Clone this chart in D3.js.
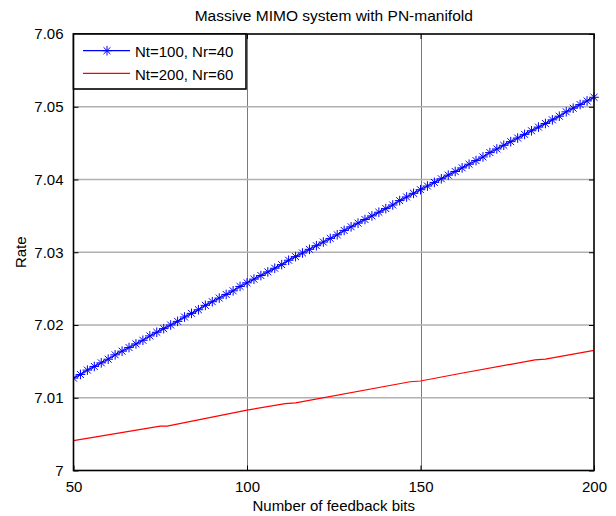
<!DOCTYPE html>
<html>
<head>
<meta charset="utf-8">
<script src="https://cdn.jsdelivr.net/npm/d3@7"></script>
<style>
  body { margin: 0; background: #fff; }
  svg text { font-family: Arial, "Liberation Sans", Helvetica, sans-serif; fill: #000; }
</style>
</head>
<body>
<div id="chart"></div>
<script>
// dados
var titulo = "Massive MIMO system with PN-manifold";
var xLabel = "Number of feedback bits";
var yLabel = "Rate";
var xTicks = [50, 100, 150, 200];
var yTicks = [7, 7.01, 7.02, 7.03, 7.04, 7.05, 7.06];
var yTickLabels = ["7", "7.01", "7.02", "7.03", "7.04", "7.05", "7.06"];
var seriesNames = ["Nt=100, Nr=40", "Nt=200, Nr=60"];

// Nt=100, Nr=40 (com marcadores)
var bitsBlue = [50, 52, 54, 56, 58, 60, 62, 64, 66, 68, 70, 72, 74, 76, 78, 80, 82, 84, 86, 88, 90, 92, 94, 96, 98,
    100, 102, 104, 106, 108, 110, 112, 114, 116, 118, 120, 122, 124, 126, 128, 130, 132, 134, 136, 138, 140, 142, 144, 146, 148,
    150, 152, 154, 156, 158, 160, 162, 164, 166, 168, 170, 172, 174, 176, 178, 180, 182, 184, 186, 188, 190, 192, 194, 196, 198, 200];
var rateBlue = [7.0127, 7.0132, 7.0138, 7.0143, 7.0148, 7.0153, 7.0159, 7.0164, 7.0169, 7.0174, 7.0179, 7.0185, 7.0190,
    7.0195, 7.0200, 7.0205, 7.0211, 7.0216, 7.0221, 7.0227, 7.0232, 7.0237, 7.0242, 7.0247, 7.0253,
    7.0258, 7.0263, 7.0268, 7.0273, 7.0278, 7.0283, 7.0289, 7.0294, 7.0299, 7.0304, 7.0309, 7.0314, 7.0319,
    7.0324, 7.0330, 7.0335, 7.0340, 7.0345, 7.0350, 7.0355, 7.0360, 7.0365, 7.0371, 7.0376, 7.0381,
    7.0386, 7.0391, 7.0396, 7.0401, 7.0406, 7.0411, 7.0416, 7.0421, 7.0426, 7.0431, 7.0437, 7.0442, 7.0447,
    7.0452, 7.0457, 7.0462, 7.0467, 7.0472, 7.0477, 7.0482, 7.0487, 7.0493, 7.0498, 7.0503, 7.0508, 7.0513];

// Nt=200, Nr=60 (linha vermelha, com pequenos patamares)
var bitsRed = [50, 75, 77, 100, 111, 114, 147, 150, 161, 183, 186, 200];
var rateRed = [7.0041, 7.0061, 7.0061, 7.0083, 7.0092, 7.0093, 7.0122, 7.0123, 7.0133, 7.0152, 7.0153, 7.0165];

var width = 616, height = 516;
var pLeft = 73.5, pRight = 594, pTop = 34, pBottom = 470.5;

var svg = d3.select("#chart").append("svg")
    .attr("width", width)
    .attr("height", height);

var x = d3.scaleLinear().domain([50, 200]).range([pLeft, pRight]);
var y = d3.scaleLinear().domain([7, 7.06]).range([pBottom, pTop]);

// grade
svg.append("g").selectAll("line")
    .data(xTicks.slice(1, -1))
    .enter().append("line")
    .attr("x1", function(d) { return Math.round(x(d)) + 0.5; })
    .attr("x2", function(d) { return Math.round(x(d)) + 0.5; })
    .attr("y1", pTop).attr("y2", pBottom)
    .attr("stroke", "#7a7a7a").attr("stroke-width", 1);

svg.append("g").selectAll("line")
    .data(yTicks.slice(1, -1))
    .enter().append("line")
    .attr("x1", pLeft).attr("x2", pRight)
    .attr("y1", function(d) { return y(d); })
    .attr("y2", function(d) { return y(d); })
    .attr("stroke", "#b0b0b0").attr("stroke-width", 1.6);

// eixos (ticks para dentro, estilo matlab)
var xAxisB = d3.axisBottom(x).tickValues(xTicks).tickSize(-5).tickPadding(11).tickFormat(d3.format("d"));
var xAxisT = d3.axisTop(x).tickValues(xTicks).tickSize(-5).tickFormat("");
var yAxisL = d3.axisLeft(y).tickValues(yTicks).tickSize(-5).tickPadding(10)
    .tickFormat(function(d, i) { return yTickLabels[i]; });
var yAxisR = d3.axisRight(y).tickValues(yTicks).tickSize(-5).tickFormat("");

function estiloEixo(g) {
    g.select(".domain").remove();
    g.selectAll(".tick line").attr("stroke", "#000").attr("stroke-width", 1);
    g.selectAll("text").style("font-size", "15px").attr("fill", "#000");
}

svg.append("g").attr("transform", "translate(0," + pBottom + ")").call(xAxisB).call(estiloEixo);
svg.append("g").attr("transform", "translate(0," + pTop + ")").call(xAxisT).call(estiloEixo);
svg.append("g").attr("transform", "translate(" + pLeft + ",0)").call(yAxisL).call(estiloEixo);
svg.append("g").attr("transform", "translate(" + pRight + ",0)").call(yAxisR).call(estiloEixo);

// linhas
svg.append("clipPath").attr("id", "clip")
    .append("rect").attr("x", pLeft).attr("y", pTop - 6).attr("width", pRight - pLeft + 6).attr("height", pBottom - pTop + 6);

var line = d3.line()
    .x(function(d) { return x(d[0]); })
    .y(function(d) { return y(d[1]); });

var redData = bitsRed.map(function(b, i) { return [b, rateRed[i]]; });
var blueData = bitsBlue.map(function(b, i) { return [b, rateBlue[i]]; });

svg.append("path")
    .datum(redData)
    .attr("d", line)
    .attr("fill", "none")
    .attr("stroke", "#ff0000")
    .attr("stroke-width", 1.2);

svg.append("path")
    .datum(blueData)
    .attr("d", line)
    .attr("fill", "none")
    .attr("stroke", "#0000ff")
    .attr("stroke-width", 1.2);

// marcador estrela
var s = 4.8;
var starPath = "M" + (-s) + ",0L" + s + ",0M0," + (-s) + "L0," + s +
    "M" + (-s * 0.72) + "," + (-s * 0.72) + "L" + (s * 0.72) + "," + (s * 0.72) +
    "M" + (-s * 0.72) + "," + (s * 0.72) + "L" + (s * 0.72) + "," + (-s * 0.72);

svg.append("g").attr("clip-path", "url(#clip)").selectAll("path")
    .data(blueData)
    .enter().append("path")
    .attr("d", starPath)
    .attr("transform", function(d) { return "translate(" + x(d[0]) + "," + y(d[1]) + ")"; })
    .attr("fill", "none")
    .attr("stroke", "#0000ff")
    .attr("stroke-width", 1);

// caixa do eixo
svg.append("rect")
    .attr("x", pLeft).attr("y", pTop)
    .attr("width", pRight - pLeft).attr("height", pBottom - pTop)
    .attr("fill", "none").attr("stroke", "#000").attr("stroke-width", 1.6);

// titulo e rotulos
svg.append("text")
    .attr("x", (pLeft + pRight) / 2).attr("y", 20.5)
    .attr("text-anchor", "middle")
    .style("font-size", "15.5px")
    .text(titulo);

svg.append("text")
    .attr("x", (pLeft + pRight) / 2).attr("y", 511)
    .attr("text-anchor", "middle")
    .style("font-size", "15px")
    .text(xLabel);

svg.append("text")
    .attr("transform", "translate(26," + ((pTop + pBottom) / 2) + ") rotate(-90)")
    .attr("text-anchor", "middle")
    .style("font-size", "15px")
    .text(yLabel);

// legenda
var leg = svg.append("g");
leg.append("rect")
    .attr("x", pLeft).attr("y", pTop)
    .attr("width", 246 - pLeft).attr("height", 89 - pTop)
    .attr("fill", "#fff").attr("stroke", "#000").attr("stroke-width", 1.6);

var legY = [50.7, 73.3];
var legColors = ["#0000ff", "#ff0000"];
seriesNames.forEach(function(nome, i) {
    leg.append("line")
        .attr("x1", 83).attr("x2", 130)
        .attr("y1", legY[i]).attr("y2", legY[i])
        .attr("stroke", legColors[i]).attr("stroke-width", 1.2);
    if (i === 0) {
        leg.append("path")
            .attr("d", starPath)
            .attr("transform", "translate(107," + legY[i] + ")")
            .attr("fill", "none").attr("stroke", "#0000ff").attr("stroke-width", 1);
    }
    leg.append("text")
        .attr("x", 135).attr("y", legY[i] + 6.3)
        .style("font-size", "15px")
        .text(nome);
});
</script>
</body>
</html>
